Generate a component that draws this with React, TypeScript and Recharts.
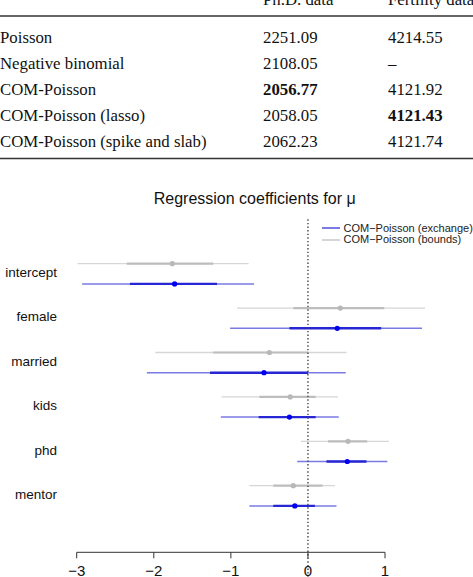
import { ScatterChart, Scatter, XAxis, YAxis, ErrorBar, ReferenceLine, Legend } from 'recharts'

// --- Model comparison table ---

const columnHeaders = ['Ph.D. data', 'Fertility data']
const models = [
  'Poisson',
  'Negative binomial',
  'COM-Poisson',
  'COM-Poisson (lasso)',
  'COM-Poisson (spike and slab)',
]
const phdValues = ['2251.09', '2108.05', '2056.77', '2058.05', '2062.23']
const fertilityValues = ['4214.55', '–', '4121.92', '4121.43', '4121.74']
const phdBest = 2
const fertilityBest = 3

// --- Regression coefficients for mu ---

const variables = ['intercept', 'female', 'married', 'kids', 'phd', 'mentor']
const xTicks = [-3, -2, -1, 0, 1]

// COM-Poisson (exchange)
const exchangeEst = [-1.73, 0.38, -0.57, -0.24, 0.51, -0.17]
const exchangeInnerLo = [-2.31, -0.24, -1.27, -0.64, 0.24, -0.45]
const exchangeInnerHi = [-1.18, 0.95, 0.0, 0.1, 0.76, 0.09]
const exchangeOuterLo = [-2.93, -1.01, -2.09, -1.13, -0.14, -0.76]
const exchangeOuterHi = [-0.7, 1.48, 0.49, 0.4, 1.03, 0.37]

// COM-Poisson (bounds)
const boundsEst = [-1.76, 0.42, -0.5, -0.23, 0.52, -0.19]
const boundsInnerLo = [-2.35, -0.19, -1.23, -0.63, 0.26, -0.45]
const boundsInnerHi = [-1.23, 0.99, 0.0, 0.1, 0.77, 0.19]
const boundsOuterLo = [-2.99, -0.92, -1.98, -1.12, -0.09, -0.76]
const boundsOuterHi = [-0.77, 1.52, 0.5, 0.39, 1.05, 0.35]

// --- Layout / styling ---

const SANS = '"Liberation Sans", Arial, Helvetica, sans-serif'
const SERIF = '"Liberation Serif", "Times New Roman", serif'

const BLUE = { thin: '#7a7ae4', thick: '#2626d4', point: '#0000f2' }
const GRAY = { thin: '#d6d6d6', thick: '#bdbdbd', point: '#b8b8b8' }

const ROW_OFFSET = 0.455 // exchange row sits below the bounds row
const LABEL_OFFSET = 0.19

const buildRows = (
  est: number[],
  innerLo: number[],
  innerHi: number[],
  outerLo: number[],
  outerHi: number[],
  shift: number
) =>
  est.map((x, i) => ({
    name: variables[i],
    x,
    y: i + shift,
    inner: [x - innerLo[i], innerHi[i] - x],
    outer: [x - outerLo[i], outerHi[i] - x],
  }))

const boundsRows = buildRows(boundsEst, boundsInnerLo, boundsInnerHi, boundsOuterLo, boundsOuterHi, 0)
const exchangeRows = buildRows(
  exchangeEst,
  exchangeInnerLo,
  exchangeInnerHi,
  exchangeOuterLo,
  exchangeOuterHi,
  ROW_OFFSET
)

const legendItems = [
  { label: 'COM−Poisson (exchange)', color: BLUE.thin, width: 2 },
  { label: 'COM−Poisson (bounds)', color: GRAY.thin, width: 1.5 },
]

const fmtTick = (v: number) => (v < 0 ? `−${Math.abs(v)}` : `${v}`)

const dot = (color: string) => (p: any) => <circle cx={p.cx} cy={p.cy} r={2.6} fill={color} />

const ModelTable = () => {
  const colX = [263, 388]
  const rowY = (i: number) => 43 + i * 25.9
  return (
    <svg width={473} height={165} style={{ position: 'absolute', left: 0, top: 0 }}>
      <g fontFamily={SERIF} fontSize={16.8} fill="#111">
        {columnHeaders.map((h, c) => (
          <text key={h} x={colX[c]} y={5}>
            {h}
          </text>
        ))}
        {models.map((m, i) => (
          <g key={m}>
            <text x={0} y={rowY(i)}>
              {m}
            </text>
            <text x={colX[0]} y={rowY(i)} fontWeight={i === phdBest ? 700 : 400}>
              {phdValues[i]}
            </text>
            <text x={colX[1]} y={rowY(i)} fontWeight={i === fertilityBest ? 700 : 400}>
              {fertilityValues[i]}
            </text>
          </g>
        ))}
      </g>
      <line x1={0} x2={473} y1={16} y2={16} stroke="#333" strokeWidth={1.4} />
      <line x1={0} x2={473} y1={158.5} y2={158.5} stroke="#333" strokeWidth={1.4} />
    </svg>
  )
}

const CoefLegend = () => (
  <div style={{ fontFamily: SANS, fontSize: 11, color: '#222' }}>
    {legendItems.map(item => (
      <div key={item.label} style={{ display: 'flex', alignItems: 'center', height: 11.7 }}>
        <span
          style={{
            display: 'inline-block',
            width: 18,
            height: item.width,
            background: item.color,
            marginRight: 3.5,
          }}
        />
        <span style={{ lineHeight: '11.7px', whiteSpace: 'nowrap' }}>{item.label}</span>
      </div>
    ))}
  </div>
)

export default function App() {
  return (
    <div
      style={{
        position: 'absolute',
        left: 0,
        top: 0,
        width: 473,
        height: 577,
        overflow: 'hidden',
        background: '#fff',
      }}
    >
      <ModelTable />

      <div
        style={{
          position: 'absolute',
          top: 190.5,
          left: 0,
          width: 509.4,
          textAlign: 'center',
          fontFamily: SANS,
          fontSize: 16,
          lineHeight: '16px',
          color: '#111',
        }}
      >
        Regression coefficients for μ
      </div>

      <div style={{ position: 'absolute', top: 170, left: 0 }}>
        <ScatterChart
          width={473}
          height={407}
          margin={{ top: 49.3, right: 10.9, bottom: 0, left: 0 }}
          style={{ fontFamily: SANS }}
        >
          <XAxis
            type="number"
            dataKey="x"
            domain={[-3.2, 2.0]}
            allowDataOverflow
            ticks={xTicks}
            tickFormatter={fmtTick}
            axisLine={false}
            tickLine={{ stroke: '#333' }}
            tickSize={6}
            tickMargin={7.2}
            height={24.7}
            tick={{ fill: '#111', fontSize: 15 }}
          />
          <YAxis
            type="number"
            dataKey="y"
            domain={[-1, 6.5]}
            reversed
            allowDataOverflow
            ticks={variables.map((_, i) => i + LABEL_OFFSET)}
            tickFormatter={(_v: number, i: number) => variables[i]}
            axisLine={false}
            tickLine={false}
            tickSize={0}
            tickMargin={4.3}
            width={61.3}
            tick={{ fill: '#111', fontSize: 13.5 }}
          />
          <Legend
            layout="horizontal"
            verticalAlign="middle"
            align="center"
            content={<CoefLegend />}
            wrapperStyle={{ top: 52.5, left: 322, width: 160, height: 24 }}
          />

          <Scatter data={boundsRows} isAnimationActive={false} shape={dot(GRAY.point)}>
            <ErrorBar dataKey="outer" direction="x" width={0} stroke={GRAY.thin} strokeWidth={1.3} isAnimationActive={false} />
            <ErrorBar dataKey="inner" direction="x" width={0} stroke={GRAY.thick} strokeWidth={2.2} isAnimationActive={false} />
          </Scatter>
          <Scatter data={exchangeRows} isAnimationActive={false} shape={dot(BLUE.point)}>
            <ErrorBar dataKey="outer" direction="x" width={0} stroke={BLUE.thin} strokeWidth={1.5} isAnimationActive={false} />
            <ErrorBar dataKey="inner" direction="x" width={0} stroke={BLUE.thick} strokeWidth={2.4} isAnimationActive={false} />
          </Scatter>

          {/* zero line runs from the top of the panel down past the axis */}
          <ReferenceLine
            segment={[
              { x: 0, y: -1 },
              { x: 0, y: 7.05 },
            ]}
            ifOverflow="visible"
            stroke="#444"
            strokeWidth={1.4}
            strokeDasharray="1.4 2.2"
          />
          {/* axis line only spans the labelled ticks */}
          <ReferenceLine
            segment={[
              { x: xTicks[0], y: 6.5 },
              { x: xTicks[xTicks.length - 1], y: 6.5 },
            ]}
            ifOverflow="visible"
            stroke="#333"
            strokeWidth={1}
          />
        </ScatterChart>
      </div>
    </div>
  )
}
